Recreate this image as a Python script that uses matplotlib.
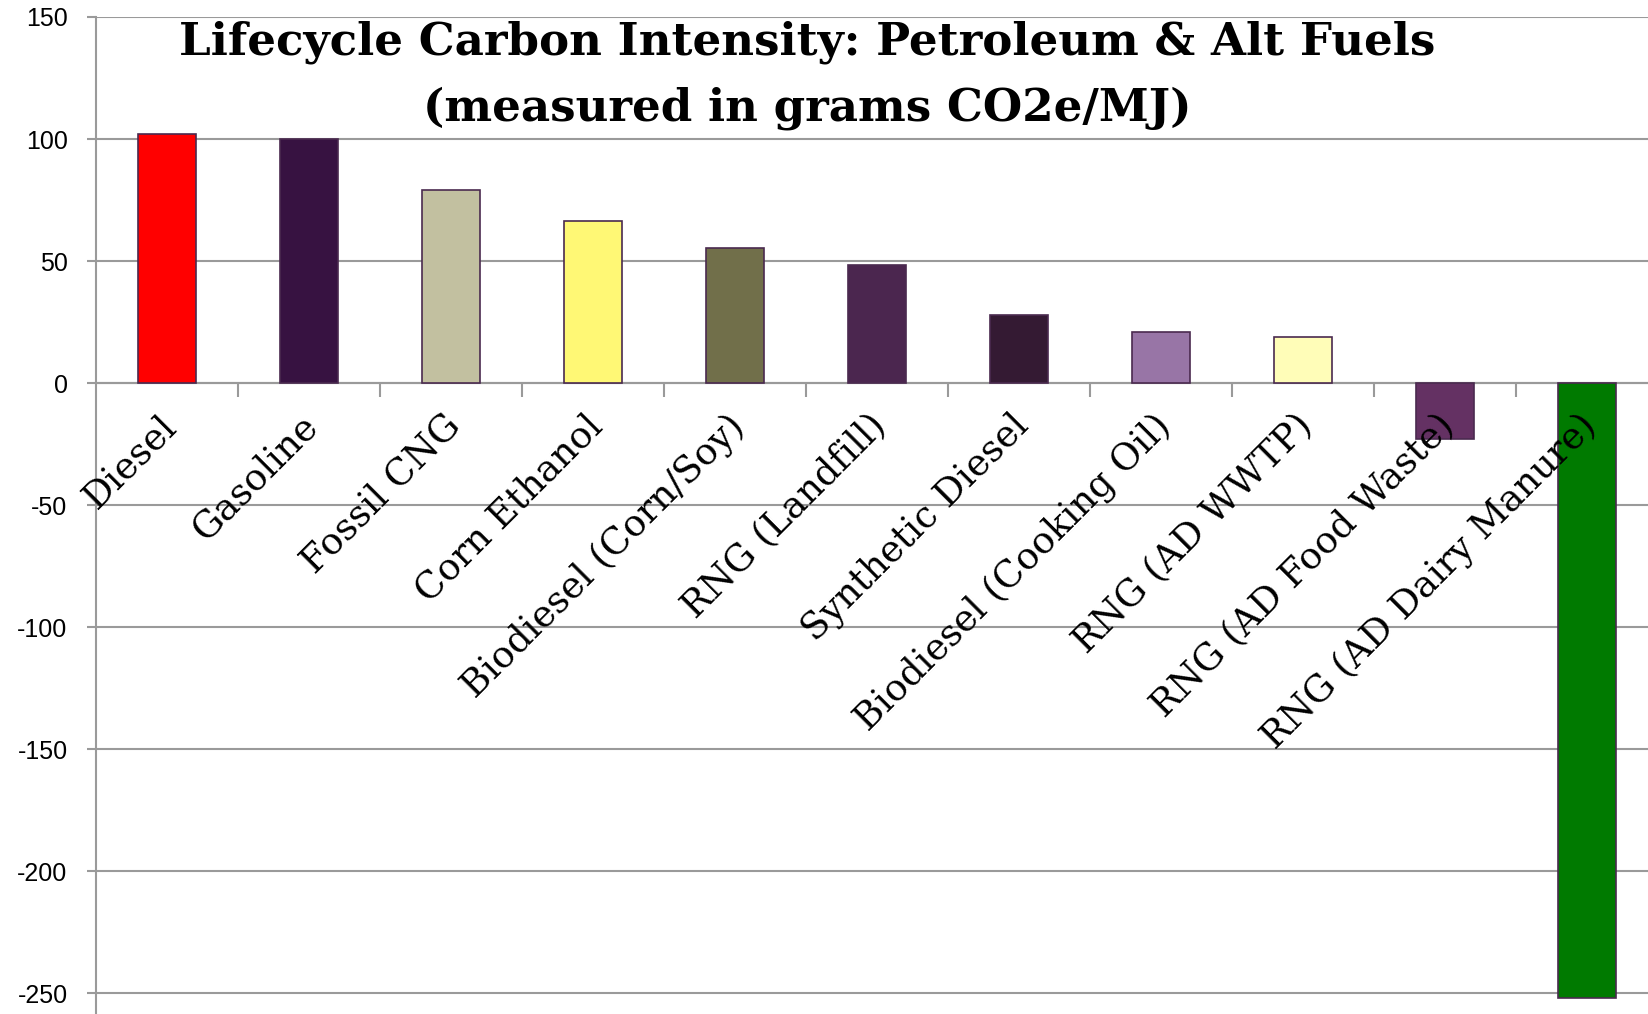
import matplotlib
matplotlib.use('Agg')
import matplotlib.pyplot as plt
import matplotlib.transforms as mtransforms
import numpy as np

fuels = ['Diesel', 'Gasoline', 'Fossil CNG', 'Corn Ethanol', 'Biodiesel (Corn/Soy)',
         'RNG (Landfill)', 'Synthetic Diesel', 'Biodiesel (Cooking Oil)', 'RNG (AD WWTP)',
         'RNG (AD Food Waste)', 'RNG (AD Dairy Manure)']
intensity = [102, 100, 79, 66.5, 55.5, 48.5, 28, 21, 19, -23, -252]
colors = ['#ff0000', '#371241', '#c2c0a0', '#fff875', '#716f4a', '#4b264f',
          '#341a33', '#9875a6', '#fffdb8', '#643163', '#007a00']
yticks = [150, 100, 50, 0, -50, -100, -150, -200, -250]

grid_col = '#9a9a9a'

fig = plt.figure(figsize=(16.49, 10.14), dpi=100)
ax = fig.add_axes([96 / 1649, 0, 1 - 96 / 1649, 1 - 17 / 1014])

x = np.arange(len(fuels))
ax.bar(x, intensity, width=0.41, color=colors, edgecolor='#4a2a4f', linewidth=1.2, zorder=3)

ax.set_xlim(-0.5, -0.5 + 1553 / 142)
ax.set_ylim(-258.6, 150)

ax.set_axisbelow(True)
ax.set_yticks(yticks)
ax.set_yticklabels([str(v) for v in yticks], fontsize=18, family='Liberation Sans')
ax.tick_params(axis='y', direction='out', length=6.5, width=1.5, color=grid_col, pad=14)
ax.yaxis.grid(True, color=grid_col, linewidth=1.5)

for s in ['top', 'right']:
    ax.spines[s].set_visible(False)
ax.spines['left'].set_color(grid_col)
ax.spines['left'].set_linewidth(1.5)
ax.spines['bottom'].set_position(('data', 0))
ax.spines['bottom'].set_color(grid_col)
ax.spines['bottom'].set_linewidth(1.5)

# category labels at centres, tick marks between categories
ax.set_xticks(x)
ax.set_xticks(np.arange(0.5, len(fuels) - 0.5, 1), minor=True)
ax.tick_params(axis='x', which='major', length=0, pad=27)
ax.tick_params(axis='x', which='minor', direction='out', length=10, width=1.5, color=grid_col)
ax.set_xticklabels(fuels, rotation=45, ha='right', va='center', rotation_mode='anchor',
                   fontsize=26.5, family='DejaVu Serif')
offset = mtransforms.ScaledTranslation(4 / 100, 0, fig.dpi_scale_trans)
for lab in ax.get_xticklabels():
    lab.set_transform(lab.get_transform() + offset)
# labels sit on top of the bars
ax.xaxis.set_zorder(4)

fig.text(807 / 1649, 1 - 42 / 1014, 'Lifecycle Carbon Intensity: Petroleum & Alt Fuels',
         ha='center', va='center', fontsize=32.5, fontweight='bold', family='DejaVu Serif')
fig.text(807 / 1649, 1 - 108 / 1014, '(measured in grams CO2e/MJ)',
         ha='center', va='center', fontsize=32.5, fontweight='bold', family='DejaVu Serif')

plt.savefig('out.png', dpi=100)
